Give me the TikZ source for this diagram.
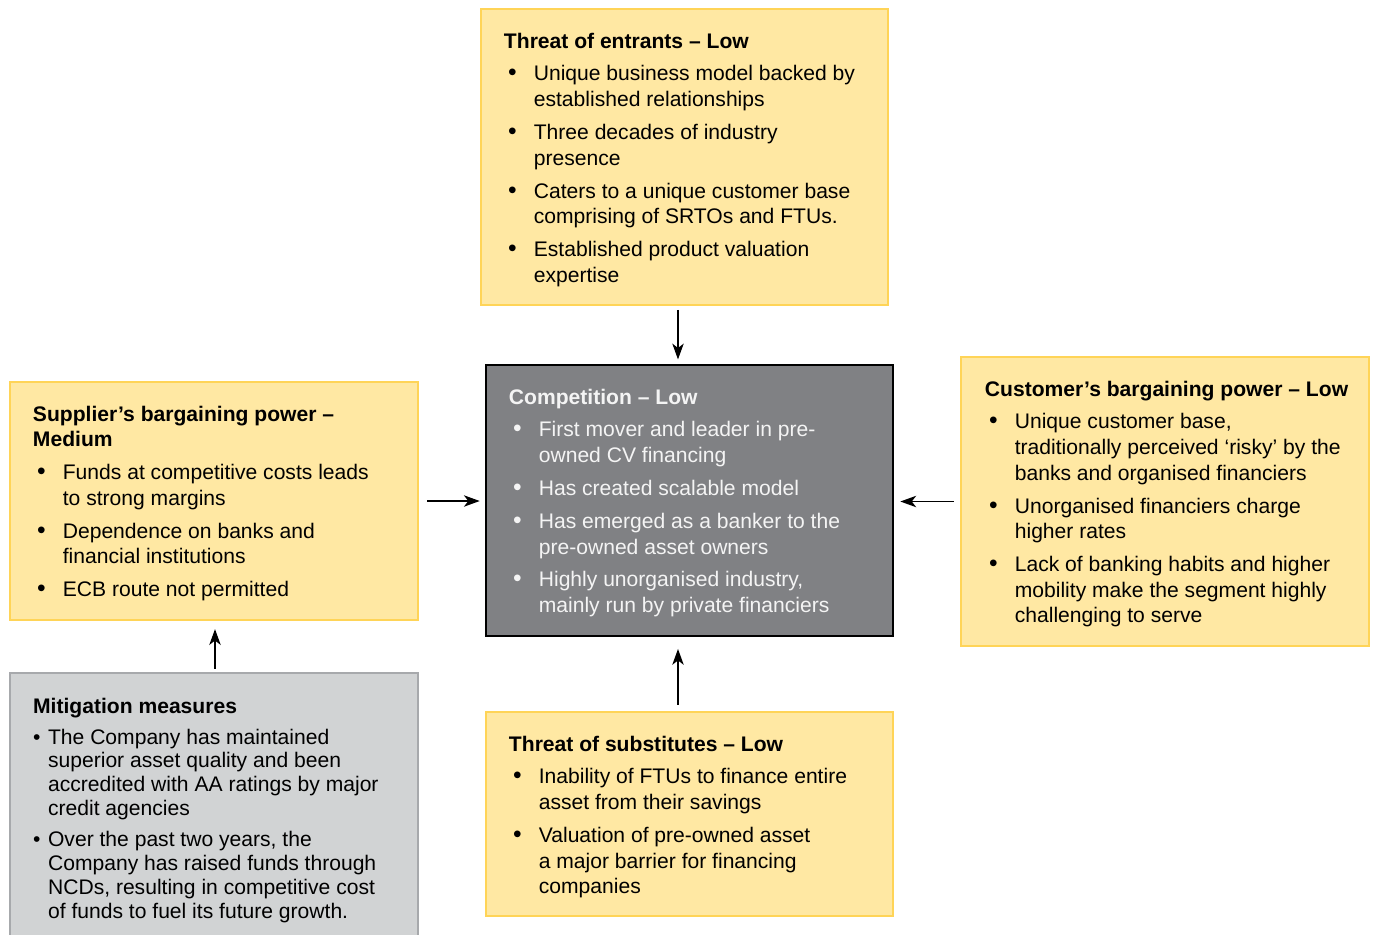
\documentclass[tikz,border=0pt]{standalone}
\usepackage{fontspec}
\setmainfont{Liberation Sans}
\usetikzlibrary{arrows.meta}

\definecolor{boxyellow}{HTML}{FFE8A3}
\definecolor{edgeyellow}{HTML}{FFD457}
\definecolor{compgray}{HTML}{808184}
\definecolor{comptext}{HTML}{F4F4F4}
\definecolor{mitgray}{HTML}{D1D3D4}
\definecolor{mitedge}{HTML}{A7A9AC}

\newcommand{\ptitle}[1]{\multicolumn{2}{@{}l@{}}{\textbf{#1}}}
\newcommand{\bul}{{\fontsize{14}{14}\selectfont\textbullet}}
\newenvironment{forcelist}{\begin{tabular}{@{\hspace{2.3pt}}p{14.7pt}@{}l@{}}}{\end{tabular}}
\newenvironment{mitlist}{\begin{tabular}{@{}p{8.5pt}@{}l@{}}}{\end{tabular}}

\begin{document}
\begin{tikzpicture}[x=0.02cm,y=-0.02cm,
    ybox/.style={draw=edgeyellow,fill=boxyellow,line width=1.6pt,inner sep=0pt},
    gbox/.style={draw=black,fill=compgray,line width=1.6pt,inner sep=0pt},
    mbox/.style={draw=mitedge,fill=mitgray,line width=1.4pt,inner sep=0pt},
    txt/.style={anchor=north west,inner sep=0pt,font=\fontsize{12}{14.6}\selectfont},
    arr/.style={-{Stealth[length=9pt,width=6.5pt,inset=2.5pt]},line width=0.7pt}]
    \useasboundingbox (0,0) rectangle (1373,934);

    \node[ybox,minimum width=8.14cm,minimum height=5.92cm](entr) at (684.5,157) {};
    \node[gbox,minimum width=8.14cm,minimum height=5.42cm](comp) at (689.5,500.5) {};
    \node[ybox,minimum width=8.16cm,minimum height=4.76cm](supp) at (214,501) {};
    \node[ybox,minimum width=8.16cm,minimum height=5.78cm](cust) at (1165,501.5) {};
    \node[ybox,minimum width=8.14cm,minimum height=4.08cm](subs) at (689.5,814) {};
    \node[mbox,minimum width=8.16cm,minimum height=5.44cm](miti) at (214,809) {};

    \node[txt](entrtext) at ([shift={(24,22.2)}]entr.north west) {\begin{forcelist}
        \ptitle{Threat of entrants -- Low}\\[4.1pt]
        \bul & Unique business model backed by\\
        & established relationships\\[4.1pt]
        \bul & Three decades of industry\\
        & presence\\[4.1pt]
        \bul & Caters to a unique customer base\\
        & comprising of SRTOs and FTUs.\\[4.1pt]
        \bul & Established product valuation\\
        & expertise
    \end{forcelist}};

    \node[txt,text=comptext](comptext) at ([shift={(24,22.2)}]comp.north west) {\begin{forcelist}
        \ptitle{Competition -- Low}\\[4.1pt]
        \bul & First mover and leader in pre-\\
        & owned CV financing\\[4.1pt]
        \bul & Has created scalable model\\[4.1pt]
        \bul & Has emerged as a banker to the\\
        & pre-owned asset owners\\[4.1pt]
        \bul & Highly unorganised industry,\\
        & mainly run by private financiers
    \end{forcelist}};

    \node[txt](supptext) at ([shift={(24,22.2)}]supp.north west) {\begin{forcelist}
        \ptitle{Supplier's bargaining power --}\\
        \ptitle{Medium}\\[4.1pt]
        \bul & Funds at competitive costs leads\\
        & to strong margins\\[4.1pt]
        \bul & Dependence on banks and\\
        & financial institutions\\[4.1pt]
        \bul & ECB route not permitted
    \end{forcelist}};

    \node[txt](custtext) at ([shift={(25,22.2)}]cust.north west) {\begin{forcelist}
        \ptitle{Customer's bargaining power -- Low}\\[4.1pt]
        \bul & Unique customer base,\\
        & traditionally perceived `risky' by the\\
        & banks and organised financiers\\[4.1pt]
        \bul & Unorganised financiers charge\\
        & higher rates\\[4.1pt]
        \bul & Lack of banking habits and higher\\
        & mobility make the segment highly\\
        & challenging to serve
    \end{forcelist}};

    \node[txt](substext) at ([shift={(24,22.2)}]subs.north west) {\begin{forcelist}
        \ptitle{Threat of substitutes -- Low}\\[4.1pt]
        \bul & Inability of FTUs to finance entire\\
        & asset from their savings\\[4.1pt]
        \bul & Valuation of pre-owned asset\\
        & a major barrier for financing\\
        & companies
    \end{forcelist}};

    \node[txt,font=\fontsize{12}{13.6}\selectfont](mititext) at ([shift={(24,24.2)}]miti.north west) {\begin{mitlist}
        \ptitle{Mitigation measures}\\[4pt]
        \textbullet & The Company has maintained\\
        & superior asset quality and been\\
        & accredited with AA ratings by major\\
        & credit agencies\\[4pt]
        \textbullet & Over the past two years, the\\
        & Company has raised funds through\\
        & NCDs, resulting in competitive cost\\
        & of funds to fuel its future growth.
    \end{mitlist}};

    \coordinate (vx) at (678,0);
    \coordinate (lx) at (215,0);
    \draw[arr,shorten <=2pt,shorten >=2.4pt](entr.south -| vx)--(comp.north -| vx);
    \draw[arr,shorten <=3.4pt,shorten >=6.6pt](subs.north -| vx)--(comp.south -| vx);
    \draw[arr,shorten <=4.4pt,shorten >=2.8pt](supp.east)--(supp.east -| comp.west);
    \draw[arr,shorten <=3.4pt,shorten >=3.4pt](cust.west)--(cust.west -| comp.east);
    \draw[arr,shorten <=1.8pt,shorten >=4.4pt](miti.north -| lx)--(supp.south -| lx);
\end{tikzpicture}
\end{document}
